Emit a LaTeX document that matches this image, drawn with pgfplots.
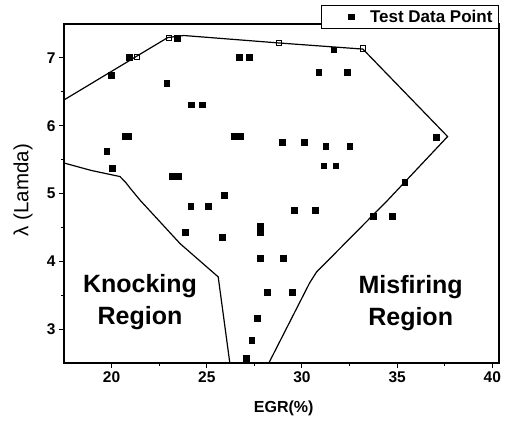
\documentclass[border=0pt]{standalone}
\usepackage{pgfplots}
\pgfplotsset{compat=1.18}
\usepackage{fontspec}
\setmainfont{Liberation Sans}
\begin{document}
\begin{tikzpicture}
\useasboundingbox (-64pt,-57pt) rectangle (441pt,363pt);
\begin{axis}[
  scale only axis,
  width=435pt, height=339pt,
  xmin=17.5, xmax=40.35, ymin=2.5, ymax=7.5,
  xtick={20,25,30,35,40}, ytick={3,4,5,6,7},
  minor x tick num=1, minor y tick num=1,
  tick align=outside,
  xtick pos=bottom, ytick pos=left,
  major tick length=5pt, minor tick length=3pt,
  every tick/.style={black, line width=1pt},
  axis line style={line width=1.3pt},
  /pgf/number format/assume math mode=true,
  ticklabel style={font=\fontsize{15.5}{17}\selectfont\bfseries},
  xlabel={EGR(\%)},
  xlabel style={font=\fontsize{16}{18}\selectfont\bfseries, at={(axis description cs:0.505,-0.133)}, anchor=center},
  ylabel={λ (Lamda)},
  ylabel style={font=\fontsize{20.5}{22}\selectfont, at={(axis description cs:-0.094,0.51)}, anchor=center},
  legend style={at={(axis description cs:1,1.056)}, anchor=north east, draw=black, line width=1pt, fill=white,
    font=\fontsize{17}{19}\selectfont\bfseries, inner xsep=4pt, inner ysep=2.5pt, legend cell align=left},
  legend image code/.code={\path (-26pt,0pt) (16pt,0pt); \draw[mark size=2.8pt, mark=square*, fill=black, draw=black] plot coordinates {(0pt,0pt)};},
  clip=false,
]
% boundaries
\addplot[black, line width=1.2pt, mark=none, forget plot] coordinates {
 (17.5,6.38) (22.95,7.30) (23.8,7.33) (28.8,7.22) (33.2,7.13) (37.65,5.84)
 (34.5,4.90) (30.76,3.84) (30.4,3.68) (28.26,2.5)
};
\addplot[black, line width=1.2pt, mark=none, forget plot] coordinates {
 (17.5,5.45) (18.93,5.34) (20.44,5.25) (20.75,5.16) (21.0,5.07) (21.5,4.90) (23.6,4.26) (25.6,3.77) (26.21,2.5)
};
% open squares on the envelope
\addplot[only marks, mark=square, mark size=2.6pt, black, line width=1pt, forget plot] coordinates {
 (21.34,7.01) (23.0,7.29) (28.8,7.22) (33.2,7.14)
};
% test data points
\addplot[only marks, mark=square*, mark size=2.9pt, black] coordinates {
 (20.0,6.75) (20.92,7.01) (23.44,7.29) (22.89,6.63) (24.2,6.31) (24.76,6.31)
 (26.7,7.01) (27.22,7.01) (20.7,5.84) (20.9,5.84) (26.45,5.84) (26.75,5.84)
 (19.74,5.62) (20.03,5.37) (23.2,5.25) (23.5,5.25) (31.67,7.12) (30.88,6.79)
 (32.39,6.79) (28.98,5.76) (30.11,5.76) (31.25,5.70) (32.51,5.70) (31.14,5.41)
 (31.77,5.41) (37.06,5.83) (35.4,5.17) (25.9,4.97) (24.16,4.81) (25.07,4.81)
 (29.59,4.75) (30.71,4.75) (23.86,4.43) (25.83,4.36) (27.79,4.52) (27.8,4.43)
 (27.79,4.05) (29.0,4.05) (28.17,3.55) (29.5,3.55) (27.66,3.16) (27.36,2.84)
 (27.05,2.57) (33.73,4.67) (34.73,4.67)
};
\addlegendentry{Test Data Point}
\node[font=\fontsize{25}{32}\selectfont\bfseries, align=center] at (axis cs:21.49,3.40) {Knocking\\Region};
\node[font=\fontsize{25}{32}\selectfont\bfseries, align=center] at (axis cs:35.71,3.39) {Misfiring\\Region};
\end{axis}
\end{tikzpicture}
\end{document}
